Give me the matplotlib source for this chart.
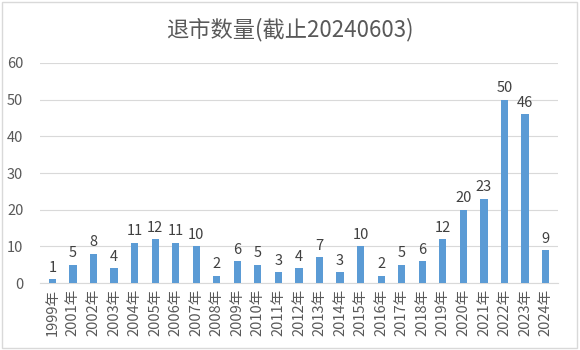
import matplotlib
matplotlib.use("Agg")
import matplotlib.pyplot as plt
from matplotlib.patches import Rectangle

plt.rcParams['font.family'] = ['Noto Sans CJK SC', 'DejaVu Sans']

years = ['1999年', '2001年', '2002年', '2003年', '2004年', '2005年', '2006年', '2007年',
         '2008年', '2009年', '2010年', '2011年', '2012年', '2013年', '2014年', '2015年',
         '2016年', '2017年', '2018年', '2019年', '2020年', '2021年', '2022年', '2023年', '2024年']
counts = [1, 5, 8, 4, 11, 12, 11, 10, 2, 6, 5, 3, 4, 7, 3, 10, 2, 5, 6, 12, 20, 23, 50, 46, 9]
title = '退市数量(截止20240603)'

fig = plt.figure(figsize=(5.8, 3.5), dpi=100)
ax = fig.add_axes([0.069, 0.191, 0.893, 0.629])

x = range(len(years))
bars = ax.bar(x, counts, width=0.35, color='#5B9BD5', zorder=3)
for xi, v in zip(x, counts):
    ax.text(xi, v + 1.2, str(v), ha='center', va='bottom', fontsize=10.5, color='#404040')

ax.set_xlim(-0.6, len(years) - 0.4)
ax.set_ylim(0, 60)
ax.set_yticks(range(0, 61, 10))
ax.tick_params(axis='y', length=0, labelsize=10.5, labelcolor='#595959', pad=12)
ax.set_xticks(list(x))
ax.set_xticklabels(years, rotation=90, fontsize=10.5, color='#595959')
ax.tick_params(axis='x', length=0, pad=4)
ax.grid(axis='y', color='#D9D9D9', linewidth=0.8, zorder=0)
for s in ['top', 'right', 'left']:
    ax.spines[s].set_visible(False)
ax.spines['bottom'].set_color('#D9D9D9')

fig.text(0.5, 0.915, title, ha='center', va='center', fontsize=16, color='#595959')
fig.patches.append(Rectangle((0.004, 0.006), 0.99, 0.988, transform=fig.transFigure,
                             fill=False, edgecolor='#D9D9D9', linewidth=1))

fig.savefig('out.png', dpi=100)
